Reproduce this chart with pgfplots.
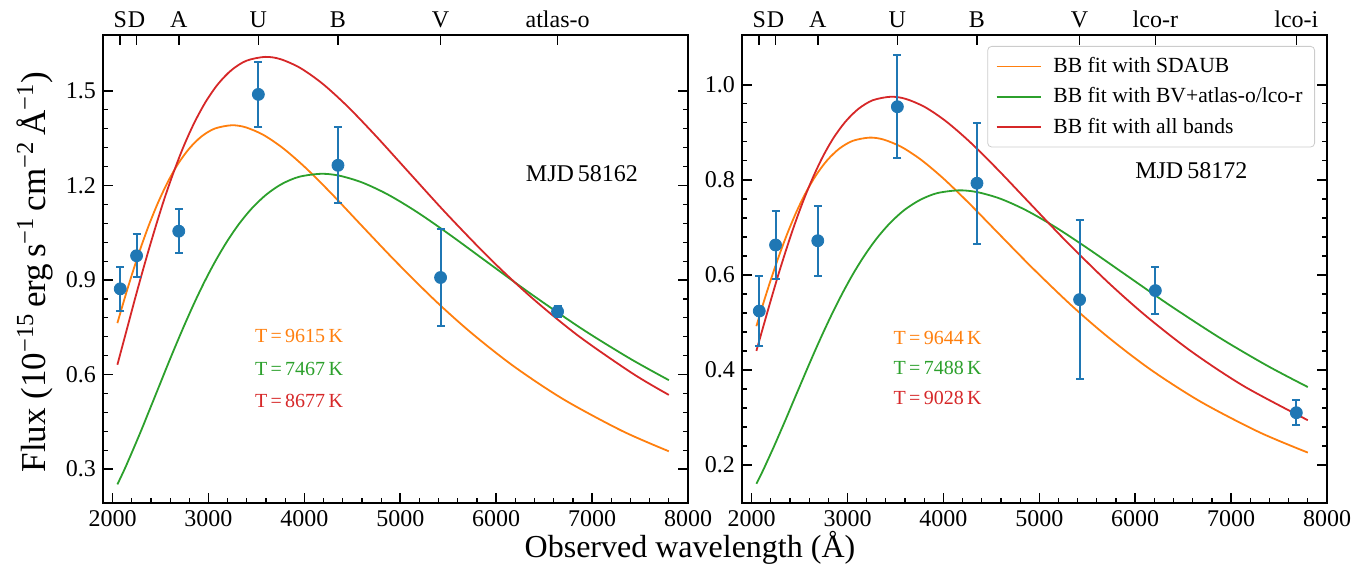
\documentclass[border=0pt]{standalone}
\usepackage{pgfplots}
\pgfplotsset{compat=1.18}
\usepackage{fontspec}
\setmainfont{Liberation Serif}
\definecolor{tabblue}{HTML}{1F77B4}
\definecolor{taborange}{HTML}{FF7F0E}
\definecolor{tabgreen}{HTML}{2CA02C}
\definecolor{tabred}{HTML}{D62728}
\pgfplotsset{
  panel/.style={
    scale only axis, width=292.5pt, height=234pt, anchor=south west,
    xmin=1900, xmax=8000,
    xtick={2000,3000,4000,5000,6000,7000,8000},
    minor x tick num=4, minor y tick num=4,
    tick align=inside, xtick pos=left,
    major tick length=5pt, minor tick length=2.5pt,
    every major tick/.append style={black, line width=0.8pt},
    every minor tick/.append style={black, line width=0.6pt},
    axis line style={line width=1pt},
    scaled ticks=false,
    /pgf/number format/1000 sep={},
    /pgf/number format/assume math mode=true,
    tick label style={font=\fontsize{12}{14}\selectfont},
    yticklabel style={/pgf/number format/fixed, /pgf/number format/fixed zerofill, /pgf/number format/precision=1},
    curve/.style={line width=0.9pt, smooth},
    legend image code/.code={\draw[##1, line width=0.9pt] (0pt,0pt) -- (22pt,0pt); \path (26pt,0pt);},
  },
  toppanel/.style={
    scale only axis, width=292.5pt, height=234pt, anchor=south west,
    xmin=1900, xmax=8000, ymin=0, ymax=1,
    axis x line*=top, axis y line=none, x axis line style={-, line width=1pt},
    tick align=inside, major tick length=5pt, minor x tick num=0,
    every major tick/.append style={black, line width=0.8pt},
    xticklabel style={font=\fontsize{12}{14}\selectfont},
  },
  pts/.style={tabblue, only marks, mark=*, mark size=3pt, forget plot,
    error bars/.cd, y dir=both, y explicit,
    error bar style={line width=1pt, tabblue},
    error mark options={rotate=90, tabblue, mark size=2pt, line width=1pt}},
}
\begin{document}
\begin{tikzpicture}
\useasboundingbox (0,0) rectangle (685pt,288pt);
% ---------------- left panel ----------------
\begin{axis}[panel, at={(51.5pt,36.5pt)}, ymin=0.1925, ymax=1.6775, ytick={0.3,0.6,0.9,1.2,1.5}]
\addplot[taborange, curve] coordinates {(2050,0.7634) (2145,0.8616) (2219,0.9339) (2298,1.0064) (2383,1.0777) (2475,1.1462) (2574,1.2102) (2681,1.2678) (2798,1.3167) (2925,1.3550) (3064,1.3804) (3240,1.3910) (3387,1.3846) (3575,1.3600) (3785,1.3164) (4022,1.2534) (4290,1.1718) (4596,1.0730) (4950,0.9597) (5362,0.8353) (5745,0.7311) (6187,0.6254) (6703,0.5212) (7312,0.4213) (7800,0.3566)};
\addplot[tabgreen, curve] coordinates {(2050,0.2514) (2125,0.2997) (2180,0.3380) (2239,0.3798) (2302,0.4253) (2367,0.4743) (2437,0.5268) (2511,0.5828) (2589,0.6416) (2673,0.7030) (2762,0.7662) (2857,0.8305) (2959,0.8950) (3069,0.9584) (3187,1.0193) (3314,1.0762) (3452,1.1274) (3602,1.1709) (3766,1.2050) (3946,1.2276) (4172,1.2370) (4361,1.2313) (4603,1.2094) (4874,1.1707) (5179,1.1147) (5524,1.0420) (5918,0.9542) (6374,0.8534) (6905,0.7428) (7398,0.6502) (7800,0.5823)};
\addplot[tabred, curve] coordinates {(2050,0.6311) (2097,0.6848) (2161,0.7575) (2228,0.8341) (2300,0.9138) (2377,0.9960) (2459,1.0796) (2546,1.1634) (2641,1.2459) (2742,1.3250) (2852,1.3990) (2971,1.4655) (3100,1.5221) (3241,1.5664) (3395,1.5958) (3590,1.6080) (3753,1.6006) (3961,1.5721) (4194,1.5218) (4456,1.4490) (4753,1.3546) (5093,1.2404) (5485,1.1094) (5942,0.9656) (6366,0.8452) (6856,0.7230) (7427,0.6025) (7800,0.5355)};
\addplot[pts] coordinates {(2080,0.872) +- (0,0.070) (2250,0.977) +- (0,0.069) (2690,1.055) +- (0,0.069) (3520,1.489) +- (0,0.104) (4350,1.264) +- (0,0.120) (5420,0.908) +- (0,0.155) (6640,0.800) +- (0,0.017)};
\node[font=\fontsize{12}{14}\selectfont] at (axis cs:6894,1.239) {MJD\,58162};
\node[taborange, font=\fontsize{10}{12}\selectfont] at (axis cs:3944,0.724) {T\,=\,9615\,K};
\node[tabgreen, font=\fontsize{10}{12}\selectfont] at (axis cs:3944,0.619) {T\,=\,7467\,K};
\node[tabred, font=\fontsize{10}{12}\selectfont] at (axis cs:3944,0.517) {T\,=\,8677\,K};
\end{axis}
\begin{axis}[toppanel, at={(51.5pt,36.5pt)}, xtick={2080,2250,2690,3520,4350,5420,6640}, xticklabels={S,D,A,U,B,V,atlas-o}]
\end{axis}
% ---------------- right panel ----------------
\begin{axis}[panel, at={(371pt,36.5pt)}, ymin=0.12, ymax=1.105, ytick={0.2,0.4,0.6,0.8,1.0},
  legend style={at={(0.9795,0.9765)}, anchor=north east, draw=black!20, rounded corners=2pt, fill=white,
    font=\fontsize{10.8}{13}\selectfont, inner xsep=4pt, inner ysep=3.5pt, row sep=2pt},
  legend cell align=left]
\addplot[taborange, curve] coordinates {(2050,0.4921) (2138,0.5506) (2212,0.5969) (2291,0.6432) (2376,0.6888) (2467,0.7325) (2566,0.7734) (2673,0.8102) (2789,0.8415) (2916,0.8660) (3055,0.8822) (3230,0.8890) (3376,0.8849) (3564,0.8692) (3774,0.8413) (4010,0.8011) (4277,0.7489) (4582,0.6858) (4935,0.6133) (5346,0.5338) (5728,0.4673) (6168,0.3997) (6683,0.3331) (7290,0.2693) (7800,0.2261)};
\addlegendentry{BB fit with SDAUB}
\addplot[tabgreen, curve] coordinates {(2050,0.1604) (2119,0.1885) (2174,0.2126) (2233,0.2388) (2295,0.2675) (2361,0.2983) (2430,0.3314) (2504,0.3665) (2582,0.4035) (2665,0.4421) (2754,0.4819) (2849,0.5223) (2951,0.5629) (3060,0.6028) (3178,0.6411) (3305,0.6769) (3443,0.7091) (3592,0.7365) (3756,0.7578) (3934,0.7721) (4160,0.7780) (4349,0.7744) (4590,0.7607) (4860,0.7363) (5164,0.7011) (5508,0.6554) (5902,0.6001) (6356,0.5367) (6885,0.4672) (7377,0.4089) (7800,0.3640)};
\addlegendentry{BB fit with BV+atlas-o/lco-r}
\addplot[tabred, curve] coordinates {(2050,0.4401) (2142,0.5057) (2211,0.5541) (2284,0.6039) (2363,0.6546) (2447,0.7054) (2538,0.7554) (2636,0.8034) (2741,0.8483) (2855,0.8886) (2980,0.9229) (3115,0.9497) (3263,0.9676) (3451,0.9750) (3607,0.9705) (3807,0.9533) (4031,0.9227) (4283,0.8786) (4569,0.8213) (4895,0.7521) (5271,0.6727) (5711,0.5855) (6119,0.5125) (6589,0.4384) (7138,0.3653) (7800,0.2942)};
\addlegendentry{BB fit with all bands}
\addplot[pts] coordinates {(2080,0.524) +- (0,0.074) (2250,0.663) +- (0,0.071) (2690,0.672) +- (0,0.074) (3520,0.954) +- (0,0.108) (4350,0.793) +- (0,0.127) (5420,0.548) +- (0,0.167) (6210,0.567) +- (0,0.050) (7680,0.310) +- (0,0.026)};
\node[font=\fontsize{12}{14}\selectfont] at (axis cs:6585,0.820) {MJD\,58172};
\node[taborange, font=\fontsize{10}{12}\selectfont] at (axis cs:3940,0.467) {T\,=\,9644\,K};
\node[tabgreen, font=\fontsize{10}{12}\selectfont] at (axis cs:3940,0.404) {T\,=\,7488\,K};
\node[tabred, font=\fontsize{10}{12}\selectfont] at (axis cs:3940,0.341) {T\,=\,9028\,K};
\end{axis}
\begin{axis}[toppanel, at={(371pt,36.5pt)}, xtick={2080,2250,2690,3520,4350,5420,6210,7680}, xticklabels={S,D,A,U,B,V,lco-r,lco-i}]
\end{axis}
% ---------------- shared labels ----------------
\node[rotate=90, font=\fontsize{17.5}{20}\selectfont] at (17.5pt,152pt) {Flux (10\textsuperscript{−15}\,erg\,s\textsuperscript{−1}\,cm\textsuperscript{−2}\,Å\textsuperscript{−1})};
\node[font=\fontsize{16}{18}\selectfont] at (345pt,14pt) {Observed wavelength (Å)};
\end{tikzpicture}
\end{document}
